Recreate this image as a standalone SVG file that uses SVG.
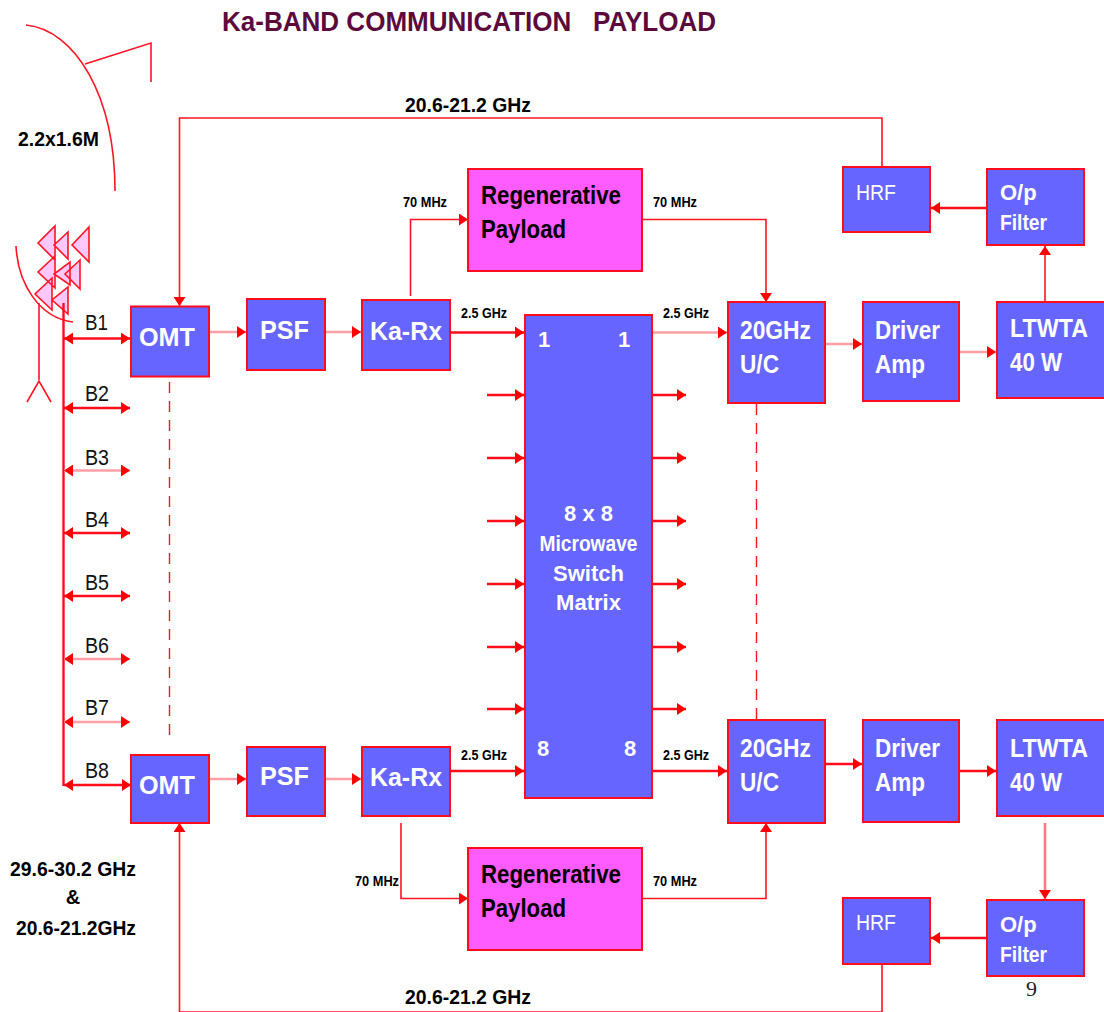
<svg xmlns="http://www.w3.org/2000/svg" width="1104" height="1012" viewBox="0 0 1104 1012">
<style>
text{font-family:"Liberation Sans",Arial,sans-serif}
.box{fill:#6666ff;stroke:#ff0d1d;stroke-width:2}
.reg{fill:#ff5cff;stroke:#ff0d1d;stroke-width:2}
.w{fill:#fff;font-weight:bold;font-size:25px}
.w2{fill:#fff;font-size:22px}
.k{fill:#000;font-weight:bold;font-size:25px}
.b{fill:#111;font-size:22px}
.f{fill:#000;font-weight:bold;font-size:20px}
.s{fill:#000;font-weight:bold;font-size:14px}
.l{fill:none;stroke:#ff1424;stroke-width:1.6}
.t{fill:none;stroke:#ff0d1d;stroke-width:2.4}
.p{fill:none;stroke:#ff9fa6;stroke-width:2.6}
.d{fill:none;stroke:#ff1424;stroke-width:1.4;stroke-dasharray:11 8}
.a{marker-end:url(#ah)}
.aa{marker-end:url(#ah);marker-start:url(#ahs)}
.fe{fill:#ffc8fa;stroke:#ff1424;stroke-width:1.6}
</style>
<defs>
<marker id="ah" markerUnits="userSpaceOnUse" markerWidth="10" markerHeight="12" refX="9" refY="6" orient="auto"><path d="M0,0L9,6L0,12Z" fill="#ff0000"/></marker>
<marker id="ahs" markerUnits="userSpaceOnUse" markerWidth="10" markerHeight="12" refX="0" refY="6" orient="auto"><path d="M9,0L0,6L9,12Z" fill="#ff0000"/></marker>
</defs>
<text id="title" x="222" y="31" font-size="28" font-weight="bold" fill="#5c0a3c" textLength="494" lengthAdjust="spacingAndGlyphs" xml:space="preserve">Ka-BAND COMMUNICATION   PAYLOAD</text>
<g id="antenna">
<path class="l" d="M26,25C75,30 115,95 115,191"/>
<path class="l" d="M85,64L151,43V82"/>
<path class="l" d="M16,246C18,285 40,318 73,322"/>
<path class="l" d="M39,303V380M27,402L39,381L51,402"/>
<path class="fe" d="M55,226V260L38,243ZM68,232V259L54,245ZM89,227V262L72,245ZM55,256V288L38,272ZM70,262V285L54,274ZM80,260V289L65,274ZM52,278V310L35,294ZM68,287V314L52,300Z"/>
</g>
<g id="connectors">
<path class="l a" d="M882,167V118H179.500V306"/>
<path class="l a" d="M882,964V1012H179.500V823"/>
<path class="t" d="M63.500,303V786"/>
<path class="t aa" d="M64,338.500H130"/><path class="t aa" d="M64,408H130"/><path class="p aa" d="M64,470.500H130"/><path class="t aa" d="M64,533H130"/><path class="t aa" d="M64,596H130"/><path class="p aa" d="M64,659H130"/><path class="p aa" d="M64,722H130"/><path class="t aa" d="M64,785H131"/>
<path class="d" d="M169.500,382V735"/>
<path class="p a" d="M209,332H246"/><path class="p a" d="M325,332H361"/>
<path class="p a" d="M209,779H246"/><path class="p a" d="M325,779H361"/>
<path class="l a" d="M410.500,296V219.500H468"/>
<path class="l a" d="M401,823V898.500H468"/>
<path class="l a" d="M642,219.500H766V302"/>
<path class="l a" d="M642,898.500H766V823"/>
<path class="t a" d="M450,332.500H524"/><path class="t a" d="M450,771H524"/>
<path class="p a" d="M652,332.500H727"/><path class="t a" d="M652,771H727"/>
<path class="t a" d="M487,395H524"/><path class="t a" d="M487,458H524"/><path class="t a" d="M487,521H524"/><path class="t a" d="M487,584H524"/><path class="t a" d="M487,647H524"/><path class="t a" d="M487,709H524"/>
<path class="t a" d="M652,395H686"/><path class="t a" d="M652,458H686"/><path class="t a" d="M652,521H686"/><path class="t a" d="M652,584H686"/><path class="t a" d="M652,647H686"/><path class="t a" d="M652,709H686"/>
<path class="d" d="M756.500,404V719"/>
<path class="p a" d="M825,344H862"/><path class="t a" d="M825,764H862"/>
<path class="p a" d="M959,352H996"/><path class="t a" d="M959,771H996"/>
<path class="l a" d="M1045,302V246"/>
<path class="p a" style="stroke:#ff7a84" d="M1045,823V899"/>
<path class="t a" d="M987,208H931"/><path class="t a" d="M987,938H931"/>
</g>
<g id="omt1"><rect class="box" x="131" y="306.500" width="78" height="70"/><text class="w" x="139" y="346" textLength="56" lengthAdjust="spacingAndGlyphs">OMT</text></g>
<g id="omt8"><rect class="box" x="131" y="755" width="78" height="68"/><text class="w" x="139" y="794" textLength="56" lengthAdjust="spacingAndGlyphs">OMT</text></g>
<g id="psf1"><rect class="box" x="247" y="299" width="78" height="71"/><text class="w" x="260" y="339" textLength="49" lengthAdjust="spacingAndGlyphs">PSF</text></g>
<g id="psf8"><rect class="box" x="247" y="747" width="78" height="69"/><text class="w" x="260" y="785" textLength="49" lengthAdjust="spacingAndGlyphs">PSF</text></g>
<g id="karx1"><rect class="box" x="362" y="300" width="88" height="70"/><text class="w" x="370" y="340" textLength="72" lengthAdjust="spacingAndGlyphs">Ka-Rx</text></g>
<g id="karx8"><rect class="box" x="362" y="747" width="88" height="69"/><text class="w" x="370" y="786" textLength="72" lengthAdjust="spacingAndGlyphs">Ka-Rx</text></g>
<g id="regen1"><rect class="reg" x="468" y="169" width="174" height="102"/><text class="k" x="481" y="204" textLength="140" lengthAdjust="spacingAndGlyphs">Regenerative</text><text class="k" x="481" y="238" textLength="85" lengthAdjust="spacingAndGlyphs">Payload</text></g>
<g id="regen8"><rect class="reg" x="468" y="848" width="174" height="102"/><text class="k" x="481" y="883" textLength="140" lengthAdjust="spacingAndGlyphs">Regenerative</text><text class="k" x="481" y="917" textLength="85" lengthAdjust="spacingAndGlyphs">Payload</text></g>
<g id="switch"><rect class="box" x="525" y="315" width="127" height="483"/>
<g text-anchor="middle" style="fill:#fff;font-weight:bold;font-size:22px"><text x="588.500" y="521" fill="#fff">8 x 8</text><text x="588.500" y="551" fill="#fff" textLength="98" lengthAdjust="spacingAndGlyphs">Microwave</text><text x="588.500" y="581" fill="#fff">Switch</text><text x="588.500" y="610" fill="#fff">Matrix</text></g>
<text class="w2" style="font-weight:bold" x="538" y="347">1</text><text class="w2" style="font-weight:bold" x="618" y="347">1</text><text class="w2" style="font-weight:bold" x="537" y="756">8</text><text class="w2" style="font-weight:bold" x="624" y="756">8</text></g>
<g id="uc1"><rect class="box" x="728" y="302" width="97" height="101"/><text class="w" x="740" y="339" textLength="71" lengthAdjust="spacingAndGlyphs">20GHz</text><text class="w" x="740" y="373" textLength="39" lengthAdjust="spacingAndGlyphs">U/C</text></g>
<g id="uc8"><rect class="box" x="728" y="720" width="97" height="103"/><text class="w" x="740" y="757" textLength="71" lengthAdjust="spacingAndGlyphs">20GHz</text><text class="w" x="740" y="791" textLength="39" lengthAdjust="spacingAndGlyphs">U/C</text></g>
<g id="driver1"><rect class="box" x="863" y="302" width="96" height="99"/><text class="w" x="875" y="339" textLength="65" lengthAdjust="spacingAndGlyphs">Driver</text><text class="w" x="875" y="373" textLength="50" lengthAdjust="spacingAndGlyphs">Amp</text></g>
<g id="driver8"><rect class="box" x="863" y="720" width="96" height="102"/><text class="w" x="875" y="757" textLength="65" lengthAdjust="spacingAndGlyphs">Driver</text><text class="w" x="875" y="791" textLength="50" lengthAdjust="spacingAndGlyphs">Amp</text></g>
<g id="ltwta1"><rect class="box" x="997" y="302" width="108" height="96"/><text class="w" x="1010" y="337" textLength="78" lengthAdjust="spacingAndGlyphs">LTWTA</text><text class="w" x="1010" y="371" textLength="52" lengthAdjust="spacingAndGlyphs">40 W</text></g>
<g id="ltwta8"><rect class="box" x="997" y="720" width="108" height="96"/><text class="w" x="1010" y="757" textLength="78" lengthAdjust="spacingAndGlyphs">LTWTA</text><text class="w" x="1010" y="791" textLength="52" lengthAdjust="spacingAndGlyphs">40 W</text></g>
<g id="hrf1"><rect class="box" x="843" y="167" width="87" height="65"/><text class="w2" x="856" y="200" textLength="40" lengthAdjust="spacingAndGlyphs">HRF</text></g>
<g id="hrf8"><rect class="box" x="843" y="898" width="87" height="66"/><text class="w2" x="856" y="930" textLength="40" lengthAdjust="spacingAndGlyphs">HRF</text></g>
<g id="filter1"><rect class="box" x="987" y="169" width="97" height="76"/><text class="w2" style="font-weight:bold" x="1000" y="200">O/p</text><text class="w2" style="font-weight:bold" x="1000" y="230" textLength="47" lengthAdjust="spacingAndGlyphs">Filter</text></g>
<g id="filter8"><rect class="box" x="987" y="900" width="97" height="76"/><text class="w2" style="font-weight:bold" x="1000" y="932">O/p</text><text class="w2" style="font-weight:bold" x="1000" y="962" textLength="47" lengthAdjust="spacingAndGlyphs">Filter</text></g>
<g id="labels">
<text class="f" x="18" y="146" textLength="81" lengthAdjust="spacingAndGlyphs">2.2x1.6M</text>
<text class="f" x="405" y="112" textLength="126" lengthAdjust="spacingAndGlyphs">20.6-21.2 GHz</text>
<text class="f" x="405" y="1004" textLength="126" lengthAdjust="spacingAndGlyphs">20.6-21.2 GHz</text>
<text class="f" x="10" y="876" textLength="126" lengthAdjust="spacingAndGlyphs">29.6-30.2 GHz</text>
<text class="f" x="73" y="904" text-anchor="middle">&amp;</text>
<text class="f" x="16" y="935" textLength="120" lengthAdjust="spacingAndGlyphs">20.6-21.2GHz</text>
<text class="b" x="85" y="330" textLength="23" lengthAdjust="spacingAndGlyphs">B1</text><text class="b" x="85" y="401" textLength="24" lengthAdjust="spacingAndGlyphs">B2</text><text class="b" x="85" y="465" textLength="24" lengthAdjust="spacingAndGlyphs">B3</text><text class="b" x="85" y="527" textLength="24" lengthAdjust="spacingAndGlyphs">B4</text><text class="b" x="85" y="590" textLength="24" lengthAdjust="spacingAndGlyphs">B5</text><text class="b" x="85" y="653" textLength="24" lengthAdjust="spacingAndGlyphs">B6</text><text class="b" x="85" y="715" textLength="24" lengthAdjust="spacingAndGlyphs">B7</text><text class="b" x="85" y="778" textLength="24" lengthAdjust="spacingAndGlyphs">B8</text>
<text class="s" x="403" y="207" textLength="44" lengthAdjust="spacingAndGlyphs">70 MHz</text>
<text class="s" x="653" y="207" textLength="44" lengthAdjust="spacingAndGlyphs">70 MHz</text>
<text class="s" x="355" y="886" textLength="44" lengthAdjust="spacingAndGlyphs">70 MHz</text>
<text class="s" x="653" y="886" textLength="44" lengthAdjust="spacingAndGlyphs">70 MHz</text>
<text class="s" x="461" y="318" textLength="46" lengthAdjust="spacingAndGlyphs">2.5 GHz</text>
<text class="s" x="663" y="318" textLength="46" lengthAdjust="spacingAndGlyphs">2.5 GHz</text>
<text class="s" x="461" y="760" textLength="46" lengthAdjust="spacingAndGlyphs">2.5 GHz</text>
<text class="s" x="663" y="760" textLength="46" lengthAdjust="spacingAndGlyphs">2.5 GHz</text>
<text x="1026" y="996" font-size="22" fill="#222" style="font-family:'Liberation Serif',serif">9</text>
</g>
</svg>
